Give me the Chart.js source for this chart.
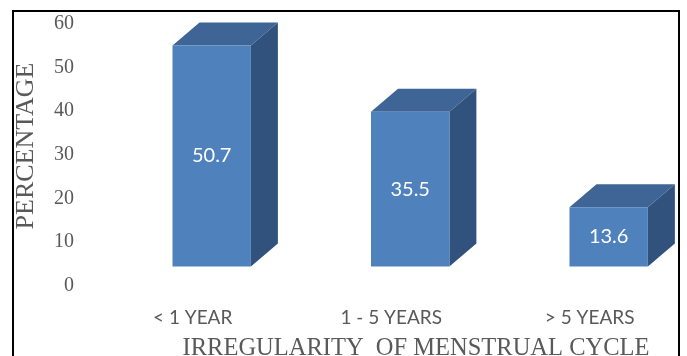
<!DOCTYPE html>
<html>
<head>
<meta charset="utf-8">
<script src="https://cdn.jsdelivr.net/npm/chart.js@4.4.1/dist/chart.umd.min.js"></script>
<style>
  html, body { margin: 0; padding: 0; overflow: hidden; background: #ffffff; }
  #wrap { position: relative; width: 687px; height: 367px; }
</style>
</head>
<body>
<div id="wrap"><canvas id="chart"></canvas></div>
<script>
// Duration of irregular menstrual cycles (% of respondents)
const categories = ['< 1 YEAR', '1 - 5 YEARS', '> 5 YEARS'];
const percentages = [50.7, 35.5, 13.6];
const yTickValues = [0, 10, 20, 30, 40, 50, 60];

const TEXT_GREY = '#595959';
const FRONT = '#4f81bd';
const TOP = '#3e6596';
const SIDE = '#31527d';

// 3D look: the front faces sit a little behind the axis plane,
// and each box has a receding top and right side.
const FRONT_SHIFT = { x: 19, y: -19 };
const DEPTH = { x: 27, y: 23 };

const boxes3d = {
  id: 'boxes3d',
  beforeDatasetsDraw(chart) {
    const ctx = chart.ctx;
    ctx.save();
    ctx.translate(FRONT_SHIFT.x, FRONT_SHIFT.y);
    chart.getDatasetMeta(0).data.forEach(bar => {
      const l = bar.x - bar.width / 2, r = bar.x + bar.width / 2;
      const t = bar.y, b = bar.base;
      ctx.fillStyle = TOP;
      ctx.beginPath();
      ctx.moveTo(l, t);
      ctx.lineTo(l + DEPTH.x, t - DEPTH.y);
      ctx.lineTo(r + DEPTH.x, t - DEPTH.y);
      ctx.lineTo(r, t);
      ctx.closePath();
      ctx.fill();
      ctx.fillStyle = SIDE;
      ctx.beginPath();
      ctx.moveTo(r, t);
      ctx.lineTo(r + DEPTH.x, t - DEPTH.y);
      ctx.lineTo(r + DEPTH.x, b - DEPTH.y);
      ctx.lineTo(r, b);
      ctx.closePath();
      ctx.fill();
    });
  },
  afterDatasetsDraw(chart) {
    const ctx = chart.ctx;
    const ds = chart.data.datasets[0];
    ctx.fillStyle = '#ffffff';
    ctx.font = '20px Lato, "Open Sans", sans-serif';
    ctx.textAlign = 'center';
    ctx.textBaseline = 'middle';
    chart.getDatasetMeta(0).data.forEach((bar, i) => {
      ctx.fillText(ds.data[i].y.toFixed(1), bar.x, (bar.y + bar.base) / 2);
    });
    ctx.restore();
  }
};

const frame = {
  id: 'frame',
  afterDraw(chart) {
    const ctx = chart.ctx;
    const h = chart.height;
    ctx.save();
    ctx.fillStyle = '#000000';
    ctx.fillRect(12, 10, 2, h - 10);
    ctx.fillRect(12, 10, 668, 2);
    ctx.fillRect(678, 10, 2, h - 10);
    ctx.restore();
  }
};

new Chart(document.getElementById('chart'), {
  type: 'bar',
  data: {
    datasets: [{
      data: categories.map((c, i) => ({ x: i, y: percentages[i] })),
      backgroundColor: FRONT,
      borderWidth: 0,
      categoryPercentage: 1,
      barPercentage: 0.395,
      clip: false
    }]
  },
  plugins: [boxes3d, frame],
  options: {
    responsive: true,
    maintainAspectRatio: false,
    animation: false,
    layout: { padding: { top: 6.5, right: 8, left: 0, bottom: 0 } },
    plugins: {
      legend: { display: false },
      tooltip: { enabled: false }
    },
    scales: {
      x: {
        type: 'linear',
        min: -0.2,
        max: 2.45,
        offset: false,
        grid: { display: false, drawTicks: false },
        border: { display: false },
        afterBuildTicks: s => { s.ticks = categories.map((c, i) => ({ value: i })); },
        afterFit: s => { s.height = 81.5; s.paddingLeft = 0; s.paddingRight = 0; },
        ticks: {
          autoSkip: false,
          maxRotation: 0,
          padding: 21,
          color: TEXT_GREY,
          font: { family: 'Lato, "Open Sans", sans-serif', size: 19 },
          callback: v => categories[v]
        },
        title: {
          display: true,
          text: 'IRREGULARITY  OF MENSTRUAL CYCLE',
          color: TEXT_GREY,
          font: { family: '"Liberation Serif", "DejaVu Serif", serif', size: 24.5 },
          padding: { top: 0, bottom: 4 }
        }
      },
      y: {
        min: 0,
        max: 64,
        grid: { display: false, drawTicks: false },
        border: { display: false },
        afterBuildTicks: s => { s.ticks = yTickValues.map(v => ({ value: v })); },
        afterFit: s => { s.width = 153; s.paddingTop = 0; s.paddingBottom = 0; },
        ticks: {
          padding: 79,
          color: TEXT_GREY,
          font: { family: '"Liberation Serif", "DejaVu Serif", serif', size: 20 }
        },
        title: {
          display: true,
          text: 'PERCENTAGE',
          color: TEXT_GREY,
          font: { family: '"Liberation Serif", "DejaVu Serif", serif', size: 26 },
          padding: { top: 11, bottom: 0 }
        }
      }
    }
  }
});
</script>
</body>
</html>
